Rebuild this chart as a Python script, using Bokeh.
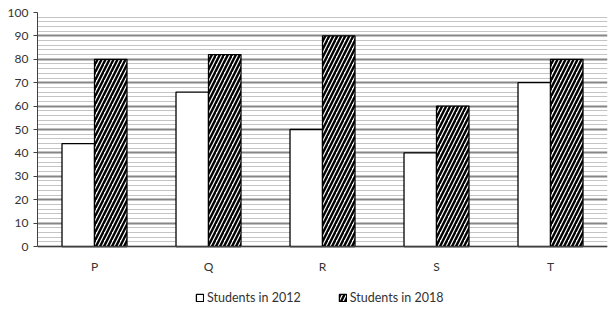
from bokeh.plotting import figure
from bokeh.models import ColumnDataSource, FixedTicker, Legend, LegendItem, Range1d, FactorRange
from bokeh.transform import dodge
from bokeh.embed import file_html
from bokeh.resources import INLINE

categories = ["P", "Q", "R", "S", "T"]
students_2012 = [44, 66, 50, 40, 70]
students_2018 = [80, 82, 90, 60, 80]
series_labels = ["Students in 2012", "Students in 2018"]
y_ticks = [0, 10, 20, 30, 40, 50, 60, 70, 80, 90, 100]
y_minor = [v for v in range(0, 101, 2) if v % 10]

src = ColumnDataSource(dict(cat=categories, y12=students_2012, y18=students_2018))

FONT = "Lato"
p = figure(frame_width=570, frame_height=297, x_range=FactorRange(*categories),
           y_range=Range1d(-26.92, 100),
           output_backend="svg", toolbar_location=None,
           min_border_left=37, min_border_right=8, min_border_top=12, min_border_bottom=0)
p.outline_line_color = None
p.background_fill_color = "white"

bw = 0.285
r1 = p.vbar(x=dodge("cat", -bw / 2, range=p.x_range), top="y12", width=bw, source=src,
            fill_color="white", line_color="black", line_width=1.3)
r2 = p.vbar(x=dodge("cat", bw / 2, range=p.x_range), top="y18", width=bw, source=src,
            fill_color="white", line_color="black", line_width=1.3,
            hatch_pattern="/", hatch_color="black", hatch_weight=2.4, hatch_scale=8)

tk = FixedTicker(ticks=y_ticks, minor_ticks=y_minor)
p.yaxis.ticker = tk
p.ygrid.ticker = tk
p.ygrid.grid_line_color = "#868686"
p.ygrid.grid_line_width = 2
p.ygrid.minor_grid_line_color = "#c4c4c4"
p.ygrid.minor_grid_line_width = 1
p.xgrid.grid_line_color = None

p.yaxis.bounds = (0, 100)
p.yaxis.axis_line_color = "#404040"
p.yaxis.major_tick_line_color = "#404040"
p.yaxis.major_tick_out = 4
p.yaxis.major_tick_in = 0
p.yaxis.minor_tick_line_color = None

p.xaxis.fixed_location = 0
p.xaxis.axis_line_color = "#404040"
p.xaxis.major_tick_line_color = None
p.xaxis.minor_tick_line_color = None
p.xaxis.major_tick_out = 0
p.xaxis.major_label_standoff = 12
for ax in (p.xaxis, p.yaxis):
    ax.major_label_text_font = FONT
    ax.major_label_text_font_size = "12px"
    ax.major_label_text_color = "#333333"

legend = Legend(items=[LegendItem(label=series_labels[0], renderers=[r1]),
                       LegendItem(label=series_labels[1], renderers=[r2])],
                orientation="horizontal", location=(158, 4),
                border_line_color=None, background_fill_alpha=0,
                label_text_font=FONT, label_text_font_size="12.5px", label_text_color="#333333",
                glyph_width=9, glyph_height=9, label_height=14, spacing=37, label_standoff=3,
                margin=0, padding=2)
p.add_layout(legend)

open("out.html", "w").write(file_html(p, INLINE))
